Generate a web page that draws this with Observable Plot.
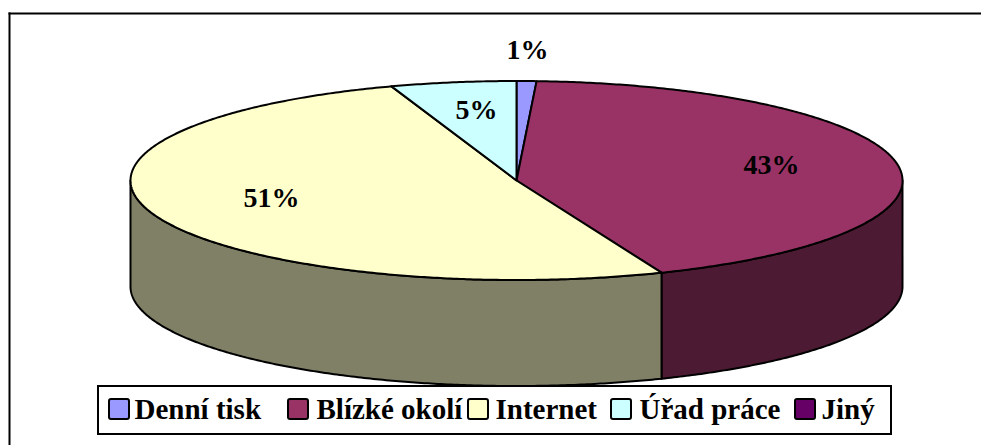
<!DOCTYPE html>
<html lang="cs">
<head>
<meta charset="utf-8">
<script src="https://cdn.jsdelivr.net/npm/d3@7"></script>
<script src="https://cdn.jsdelivr.net/npm/@observablehq/plot@0.6"></script>
<style>
html,body{margin:0;padding:0;background:#fff}
svg{display:block}
</style>
</head>
<body>
<div id="chart"></div>
<script>
// Data
const categories = ["Denní tisk", "Blízké okolí", "Internet", "Úřad práce", "Jiný"];
const shares = [0.83, 43.04, 50.88, 5.25, 0];
const labels = ["1%", "43%", "51%", "5%", ""];
const topColors = ["#9999FF", "#993366", "#FFFFCC", "#CCFFFF", "#660066"];
const sideColors = ["#4D4D80", "#4D1A33", "#808066", "#668080", "#330033"];

// Layout
const W = 981, H = 445;
const cx = 516, cy = 180, rx = 386, ry = 99.5, depth = 106;
const labelX = [527, 771, 271, 476];
const labelY = [50, 165, 198, 110];
const legendBox = {x1: 98, x2: 891, y1: 386, y2: 434};
const swatchX = [109, 288, 468, 611, 795];
const legendTextX = [134, 316, 495, 639, 821];
const legendY = 409;
const font = "'Liberation Serif','Times New Roman',serif";

const px = t => cx + rx * Math.sin(t);
const py = t => cy - ry * Math.cos(t);
const total = d3.sum(shares);
const ends = Array.from(d3.cumsum(shares), v => v / total * 2 * Math.PI);
const starts = [0, ...ends.slice(0, -1)];
const step = Math.PI / 360;
const arc = (a, b) => {
  const n = Math.max(1, Math.ceil((b - a) / step));
  return d3.range(n + 1).map(i => a + (b - a) * i / n);
};

const topFaces = [], sideFaces = [];
categories.forEach((name, i) => {
  if (shares[i] <= 0) return;
  topFaces.push({id: name, color: topColors[i], x: cx, y: cy});
  for (const t of arc(starts[i], ends[i])) topFaces.push({id: name, color: topColors[i], x: px(t), y: py(t)});
  const a = Math.max(starts[i], Math.PI / 2), b = Math.min(ends[i], 3 * Math.PI / 2);
  if (b > a) {
    const ts = arc(a, b);
    for (const t of ts) sideFaces.push({id: name, color: sideColors[i], x: px(t), y: py(t)});
    for (const t of ts.slice().reverse()) sideFaces.push({id: name, color: sideColors[i], x: px(t), y: py(t) + depth});
  }
});

const sliceLine = rows => Plot.line(rows, {
  x: "x", y: "y", z: "id", fill: "color", stroke: "#000", strokeWidth: 2,
  curve: "linear-closed", strokeLinejoin: "round"
});

const legendRows = categories.map((name, i) => ({name, color: topColors[i], sx: swatchX[i], tx: legendTextX[i]}));
const sliceLabels = labels.slice(0, 4).map((text, i) => ({text, x: labelX[i], y: labelY[i]}));

const plot = Plot.plot({
  width: W, height: H,
  marginTop: 13, marginLeft: 9, marginRight: 0, marginBottom: 0,
  x: {domain: [0, W], range: [0, W], axis: null},
  y: {domain: [0, H], range: [0, H], axis: null},
  color: {type: "identity"},
  style: {background: "#fff", fontFamily: font},
  marks: [
    Plot.frame({anchor: "top", stroke: "#000", strokeWidth: 2}),
    Plot.frame({anchor: "left", stroke: "#000", strokeWidth: 2}),
    sliceLine(sideFaces),
    sliceLine(topFaces),
    Plot.text(sliceLabels, {
      x: "x", y: "y", text: "text", fontSize: 28, fontWeight: "bold",
      fontFamily: font, fill: "#000", textAnchor: "middle"
    }),
    Plot.rect([legendBox], {x1: "x1", x2: "x2", y1: "y1", y2: "y2", fill: "#fff", stroke: "#000", strokeWidth: 2}),
    Plot.rect(legendRows, {
      x1: "sx", x2: d => d.sx + 20, y1: () => legendY - 10, y2: () => legendY + 10,
      fill: "color", stroke: "#000", strokeWidth: 2, rx: 2
    }),
    Plot.text(legendRows, {
      x: "tx", y: () => legendY, text: "name", fontSize: 29, fontWeight: "bold",
      fontFamily: font, fill: "#000", textAnchor: "start"
    })
  ]
});
document.getElementById("chart").appendChild(plot);
</script>
</body>
</html>
